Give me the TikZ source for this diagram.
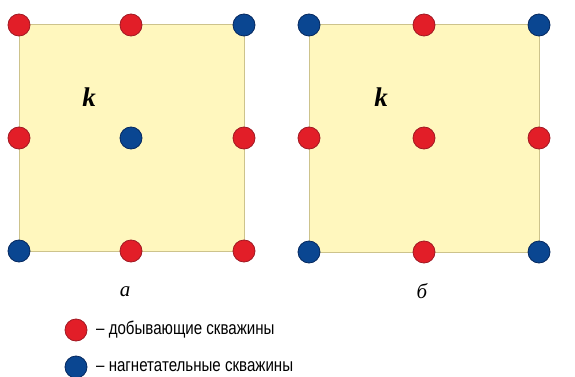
\documentclass[tikz,border=0pt]{standalone}
\usepackage{fontspec}
\setmainfont{Liberation Serif}
\setsansfont{Liberation Sans}
\newfontfamily\legfont[FakeStretch=0.82]{Liberation Sans}
\begin{document}
\begin{tikzpicture}[x=1pt,y=-1pt,
  field/.style={fill=fieldfill,draw=fieldline,line width=1pt},
  prod/.style={circle,fill=wellred,draw=wellredline,line width=0.8pt,minimum size=22pt,inner sep=0pt},
  inj/.style={circle,fill=wellblue,draw=wellblueline,line width=0.8pt,minimum size=22pt,inner sep=0pt},
  lprod/.style={prod,minimum size=22pt},
  linj/.style={inj,minimum size=22pt},
  perm/.style={font=\fontsize{27}{29}\selectfont\bfseries\itshape},
  panellabel/.style={font=\fontsize{21}{23}\selectfont\itshape},
  legtext/.style={font=\fontsize{18.4}{20}\selectfont\legfont,anchor=west,inner sep=0pt}]
\definecolor{fieldfill}{RGB}{255,247,190}
\definecolor{fieldline}{RGB}{205,195,140}
\definecolor{wellred}{RGB}{226,30,40}
\definecolor{wellredline}{RGB}{160,25,35}
\definecolor{wellblue}{RGB}{10,70,145}
\definecolor{wellblueline}{RGB}{5,40,95}
\useasboundingbox (0,0) rectangle (575,377);
% panel a
\draw[field] (19,25) rectangle (244,251);
\node[prod] (a1) at (19,25) {};
\node[prod] (a2) at (131,25) {};
\node[inj]  (a3) at (244,25) {};
\node[prod] (a4) at (19,138) {};
\node[inj]  (a5) at (131,138) {};
\node[prod] (a6) at (244,138) {};
\node[inj]  (a7) at (19,251) {};
\node[prod] (a8) at (131,251) {};
\node[prod] (a9) at (244,251) {};
\node[perm] (ka) at (89,97) {k};
\node[panellabel] (la) at (125,292) {а};
% panel b
\draw[field] (309,25) rectangle (539,252);
\node[inj]  (b1) at (309,25) {};
\node[prod] (b2) at (424,25) {};
\node[inj]  (b3) at (539,25) {};
\node[prod] (b4) at (309,138) {};
\node[prod] (b5) at (424,138) {};
\node[prod] (b6) at (539,138) {};
\node[inj]  (b7) at (309,252) {};
\node[prod] (b8) at (424,252) {};
\node[inj]  (b9) at (539,252) {};
\node[perm] (kb) at (381,97) {k};
\node[panellabel] (lb) at (422,291) {б};
% legend
\node[lprod] (lr) at (76,330) {};
\node[legtext] (tr) at (96,330) {– добывающие скважины};
\node[linj] (lbl) at (76,367) {};
\node[legtext] (tb) at (96,367) {– нагнетательные скважины};
\end{tikzpicture}
\end{document}
